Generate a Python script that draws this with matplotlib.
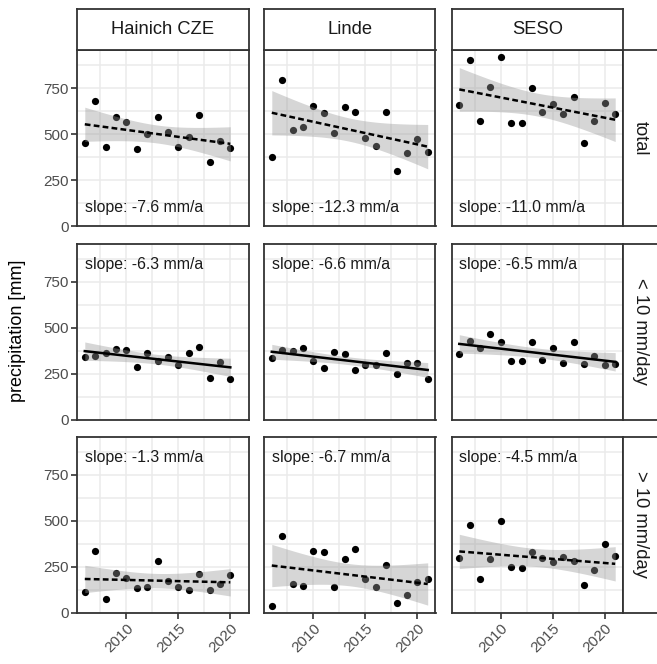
import numpy as np
import matplotlib
matplotlib.use("Agg")
import matplotlib.pyplot as plt

plt.rcParams['font.family'] = ['Liberation Sans', 'DejaVu Sans']

# annual precipitation sums per site and class
sites = ["Hainich CZE", "Linde", "SESO"]
classes = ["total", "< 10 mm/day", "> 10 mm/day"]

years_hainich = list(range(2006, 2021))
years_other = list(range(2006, 2022))

hainich_total = [450, 681, 432, 596, 567, 420, 500, 596, 510, 432, 487, 603, 347, 463, 423]
hainich_low = [340, 344, 362, 383, 380, 286, 362, 318, 338, 295, 362, 394, 226, 311, 219]
hainich_high = [114, 335, 72, 213, 189, 133, 141, 278, 171, 137, 123, 211, 123, 155, 206]

linde_total = [374, 792, 525, 538, 654, 616, 507, 648, 619, 478, 436, 623, 300, 398, 474, 405]
linde_low = [334, 376, 372, 390, 318, 282, 369, 358, 271, 297, 297, 360, 246, 306, 309, 221]
linde_high = [38, 416, 157, 146, 335, 332, 139, 292, 346, 182, 141, 261, 54, 96, 168, 184]

seso_total = [656, 901, 572, 754, 919, 559, 559, 752, 621, 665, 610, 701, 454, 572, 670, 610]
seso_low = [354, 427, 389, 465, 423, 316, 316, 423, 324, 389, 307, 421, 304, 344, 297, 304]
seso_high = [299, 474, 184, 290, 498, 245, 242, 330, 297, 274, 301, 281, 151, 233, 373, 307]

# trend slopes (mm/a) and whether the trend is significant
slopes = [[-7.6, -12.3, -11.0],
          [-6.3, -6.6, -6.5],
          [-1.3, -6.7, -4.5]]
significant = [[False, False, False],
               [True, True, True],
               [False, False, False]]

series = {
    ("Hainich CZE", "total"): (years_hainich, hainich_total),
    ("Hainich CZE", "< 10 mm/day"): (years_hainich, hainich_low),
    ("Hainich CZE", "> 10 mm/day"): (years_hainich, hainich_high),
    ("Linde", "total"): (years_other, linde_total),
    ("Linde", "< 10 mm/day"): (years_other, linde_low),
    ("Linde", "> 10 mm/day"): (years_other, linde_high),
    ("SESO", "total"): (years_other, seso_total),
    ("SESO", "< 10 mm/day"): (years_other, seso_low),
    ("SESO", "> 10 mm/day"): (years_other, seso_high),
}

# 97.5 % quantiles of Student's t
t975 = {13: 2.160, 14: 2.145}

W, H = 657, 664
fig = plt.figure(figsize=(W / 100, H / 100), dpi=100)

col_left = [77, 264, 451.5]
col_w = 171.5
row_top = [50, 243.5, 436.5]
row_h = 176
border = "#333333"


def box(x0, y0, w, h):
    return [x0 / W, 1 - (y0 + h) / H, w / W, h / H]


for r, cls in enumerate(classes):
    for c, site in enumerate(sites):
        ax = fig.add_axes(box(col_left[c], row_top[r], col_w, row_h))
        x = np.array(series[(site, cls)][0], dtype=float)
        y = np.array(series[(site, cls)][1], dtype=float)

        ax.set_xlim(2005.25, 2021.75)
        ax.set_ylim(0, 958)
        ax.set_xticks([2010, 2015, 2020])
        ax.set_xticks([2007.5, 2012.5, 2017.5], minor=True)
        ax.set_yticks([0, 250, 500, 750])
        ax.set_yticks([125, 375, 625, 875], minor=True)
        ax.grid(True, which="both", color="#EBEBEB", linewidth=1.1, zorder=0)
        ax.set_axisbelow(True)

        ax.scatter(x, y, s=27, color="black", zorder=2, linewidths=0)

        # trend line through the centroid with the stated slope, plus 95 % band
        b = slopes[r][c]
        xm, ym = x.mean(), y.mean()
        fit = ym + b * (x - xm)
        n = len(x)
        s = np.sqrt(np.sum((y - fit) ** 2) / (n - 2))
        xs = np.linspace(x.min(), x.max(), 80)
        ys = ym + b * (xs - xm)
        se = s * np.sqrt(1 / n + (xs - xm) ** 2 / np.sum((x - xm) ** 2))
        ax.fill_between(xs, ys - t975[n - 2] * se, ys + t975[n - 2] * se,
                        color="#999999", alpha=0.4, linewidth=0, zorder=3)
        if significant[r][c]:
            ax.plot(xs, ys, color="black", linewidth=1.8, zorder=4)
        else:
            ax.plot(xs, ys, color="black", linewidth=1.8, zorder=4,
                    linestyle=(0, (2.3, 1.3)))

        label = f"slope: {b:.1f} mm/a"
        if r == 0:
            ax.text(2006, 100, label, fontsize=11.4, color="#1A1A1A", va="center", ha="left")
        else:
            ax.text(2006, 845, label, fontsize=11.4, color="#1A1A1A", va="center", ha="left")

        for sp in ax.spines.values():
            sp.set_color(border)
            sp.set_linewidth(1.3)
        ax.tick_params(which="minor", length=0)
        ax.tick_params(which="major", length=4, width=1.2, color=border,
                       labelsize=11, labelcolor="#4D4D4D", pad=2)
        if c == 0:
            ax.set_yticklabels(["0", "250", "500", "750"])
        else:
            ax.tick_params(axis="y", which="major", length=0, labelleft=False)
        if r == 2:
            ax.set_xticklabels(["2010", "2015", "2020"], rotation=45,
                               ha="right", va="top", rotation_mode="anchor")
        else:
            ax.tick_params(axis="x", which="major", length=0, labelbottom=False)

# column strips
for c, site in enumerate(sites):
    sax = fig.add_axes(box(col_left[c], 9, col_w, 41))
    sax.set_xticks([])
    sax.set_yticks([])
    sax.set_facecolor("white")
    for sp in sax.spines.values():
        sp.set_color(border)
        sp.set_linewidth(1.3)
    sax.text(0.5, 0.5, site, transform=sax.transAxes, ha="center", va="center",
             fontsize=13.2, color="#1A1A1A")

# row strips
for r, cls in enumerate(classes):
    sax = fig.add_axes(box(623, row_top[r], 41, row_h))
    sax.set_xticks([])
    sax.set_yticks([])
    sax.set_facecolor("white")
    for sp in sax.spines.values():
        sp.set_color(border)
        sp.set_linewidth(1.3)
    sax.text(0.42, 0.5, cls, transform=sax.transAxes, ha="center", va="center",
             fontsize=13.2, color="#1A1A1A", rotation=-90)

fig.text(18 / W, 1 - 331 / H, "precipitation [mm]", rotation=90, ha="center",
         va="center", fontsize=13)

fig.savefig("out.png", dpi=100)
